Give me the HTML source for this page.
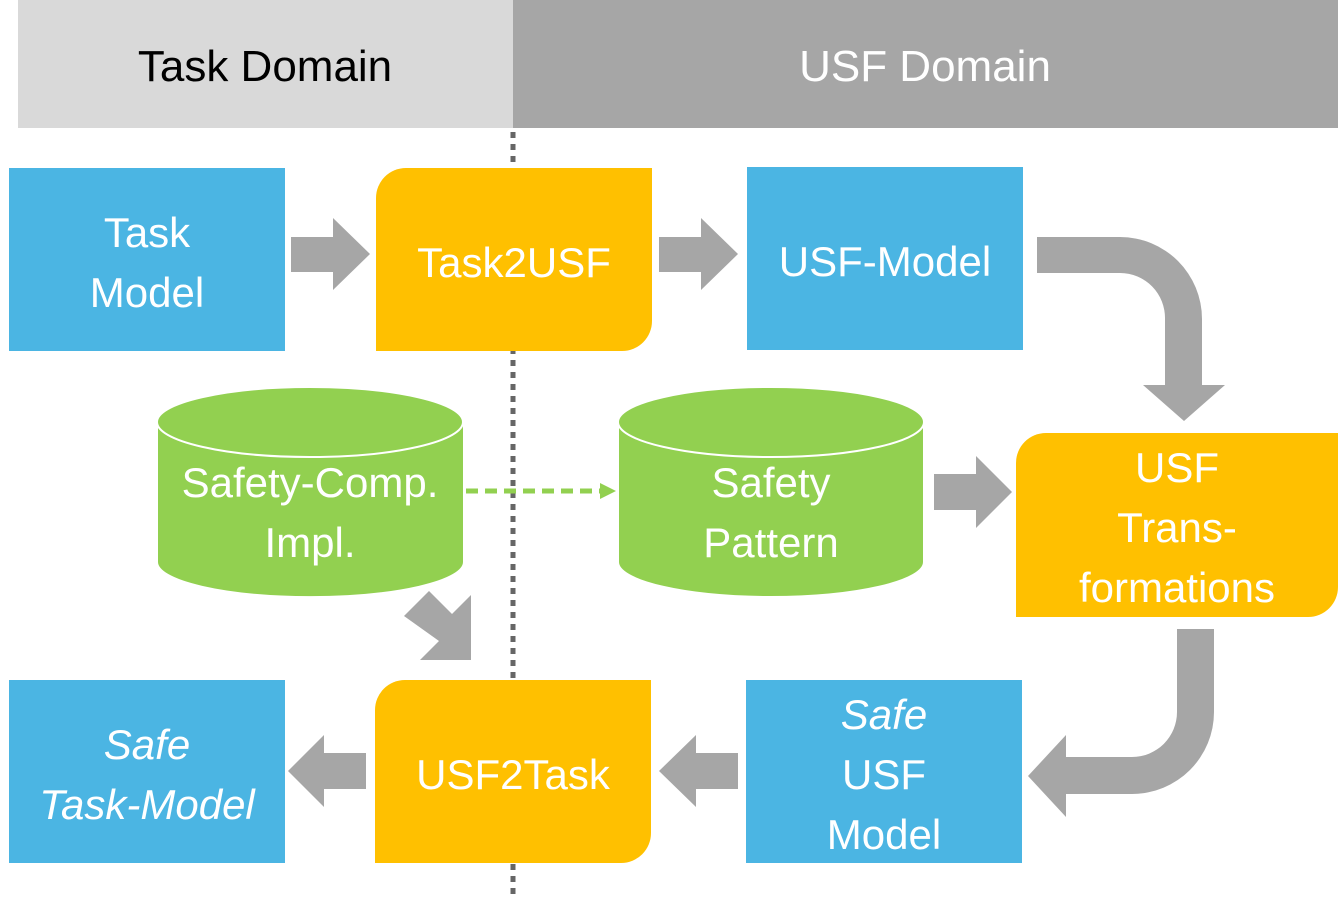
<!DOCTYPE html>
<html><head><meta charset="utf-8"><style>
html,body{margin:0;padding:0;background:#fff;}
svg{display:block;}
text{font-family:"Liberation Sans",sans-serif;fill:#fff;font-size:42px;text-anchor:middle;}
</style></head><body>
<svg width="1338" height="905" viewBox="0 0 1338 905">
<rect x="18" y="0" width="495" height="128" fill="#d9d9d9"/>
<rect x="513" y="0" width="825" height="128" fill="#a6a6a6"/>
<text x="265" y="81" style="fill:#000;font-size:44px">Task Domain</text>
<text x="925" y="81" style="font-size:44px">USF Domain</text>
<line x1="513" y1="132" x2="513" y2="900" stroke="#666" stroke-width="5" stroke-dasharray="6,6"/>

<rect x="9" y="168" width="276" height="183" fill="#4bb5e3"/>
<text x="147" y="247">Task</text><text x="147" y="307">Model</text>
<path d="M406 168 H652 V321 A30 30 0 0 1 622 351 H376 V198 A30 30 0 0 1 406 168Z" fill="#ffc000"/>
<text x="514" y="277">Task2USF</text>
<rect x="747" y="167" width="276" height="183" fill="#4bb5e3"/>
<text x="885" y="276">USF-Model</text>

<path d="M1046 433 H1338 V587 A30 30 0 0 1 1308 617 H1016 V463 A30 30 0 0 1 1046 433Z" fill="#ffc000"/>
<text x="1177" y="482">USF</text><text x="1177" y="542">Trans-</text><text x="1177" y="602">formations</text>

<rect x="9" y="680" width="276" height="183" fill="#4bb5e3"/>
<text x="147" y="759" font-style="italic">Safe</text><text x="147" y="819" font-style="italic">Task-Model</text>
<path d="M405 680 H651 V833 A30 30 0 0 1 621 863 H375 V710 A30 30 0 0 1 405 680Z" fill="#ffc000"/>
<text x="513" y="789">USF2Task</text>
<rect x="746" y="680" width="276" height="183" fill="#4bb5e3"/>
<text x="884" y="729" font-style="italic">Safe</text><text x="884" y="789">USF</text><text x="884" y="849">Model</text>

<g fill="#92d050" stroke="#fff" stroke-width="2">
<path d="M157 422 V562 A153 35 0 0 0 464 562 V422"/>
<ellipse cx="310" cy="422" rx="153" ry="35"/>
<path d="M618 422 V562 A153 35 0 0 0 924 562 V422"/>
<ellipse cx="771" cy="422" rx="153" ry="35"/>
</g>
<text x="310" y="497">Safety-Comp.</text><text x="310" y="557">Impl.</text>
<text x="771" y="497">Safety</text><text x="771" y="557">Pattern</text>

<line x1="466" y1="491" x2="604" y2="491" stroke="#92d050" stroke-width="5" stroke-dasharray="12,7"/>
<path d="M600 483 L616 491 L600 499Z" fill="#92d050"/>

<g fill="#a6a6a6">
<path d="M291 237 H333 V218 L370 254 L333 290 V272 H291Z"/>
<path d="M659 237 H701 V218 L738 254 L701 290 V272 H659Z"/>
<path d="M934 474 H976 V456 L1012 492 L976 528 V510 H934Z"/>
<path d="M366 753 H324 V735 L288 771 L324 807 V789 H366Z"/>
<path d="M738 753 H696 V735 L659 771 L696 807 V789 H738Z"/>
<path d="M1037 237 H1120 A82 82 0 0 1 1202 319 V385 H1225 L1184 421 L1143 385 H1165 V319 A45 45 0 0 0 1120 273 H1037Z"/>
<path d="M1177 629 H1214 V712 A82 82 0 0 1 1132 794 H1066 V817 L1028 776 L1066 735 V757 H1132 A45 45 0 0 0 1177 712Z"/>
<path d="M404 616 L429 591 L452 614 L471 595 V660 H420 L439 641Z"/>
</g>
</svg>
</body></html>
